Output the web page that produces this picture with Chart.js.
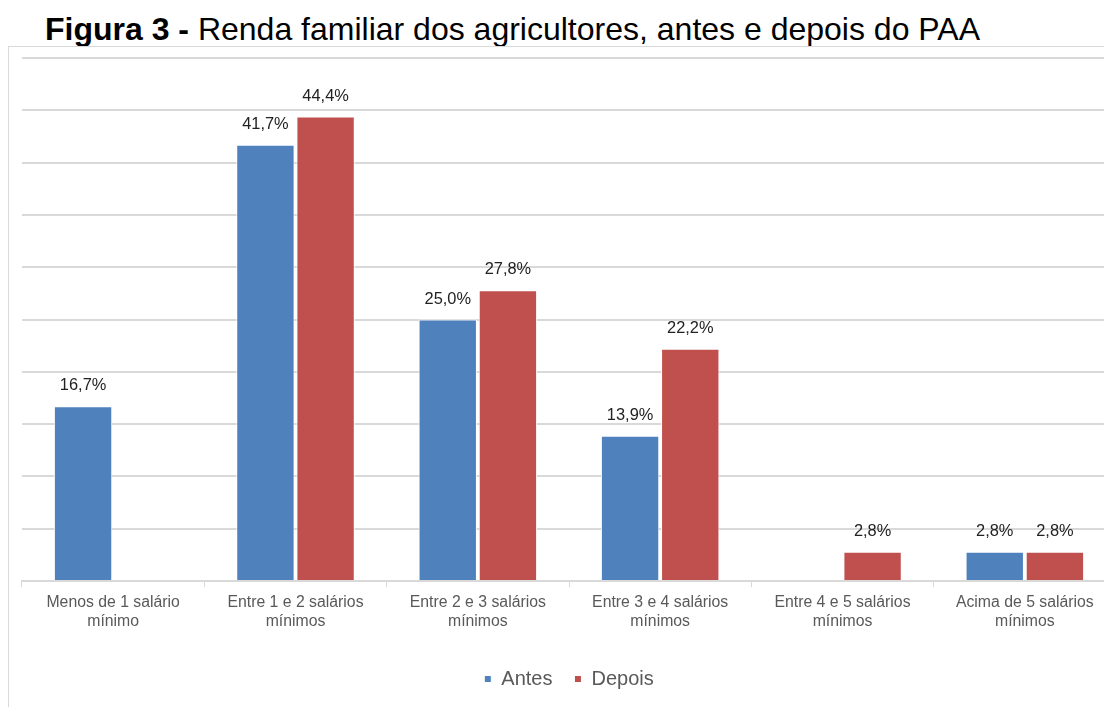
<!DOCTYPE html>
<html>
<head>
<meta charset="utf-8">
<script src="https://cdn.jsdelivr.net/npm/chart.js@4"></script>
<style>
  html, body { margin: 0; padding: 0; background: #fff; overflow: hidden; width: 1104px; height: 707px; }
  #title { position: absolute; left: 45px; top: 11px; font: 32px "Liberation Sans", Arial, sans-serif; color: #000; white-space: nowrap; }
  #title b { font-weight: bold; }
  #frame { position: absolute; left: 8px; top: 46px; width: 1130px; height: 700px; border-left: 1px solid #d9d9d9; border-top: 1px solid #d9d9d9; }
  #wrap { position: absolute; left: 9px; top: 47px; width: 1120px; height: 660px; }
</style>
</head>
<body>
<div id="title"><b>Figura 3 -</b> Renda familiar dos agricultores, antes e depois do PAA</div>
<div id="frame"></div>
<div id="wrap"><canvas id="myChart"></canvas></div>
<script>
// categories and values (%)
const categories = [
  ["Menos de 1 salário", "mínimo"],
  ["Entre 1 e 2 salários", "mínimos"],
  ["Entre 2 e 3 salários", "mínimos"],
  ["Entre 3 e 4 salários", "mínimos"],
  ["Entre 4 e 5 salários", "mínimos"],
  ["Acima de 5 salários", "mínimos"],
];
const antes = [16.7, 41.7, 25.0, 13.9, null, 2.8];
const depois = [null, 44.4, 27.8, 22.2, 2.8, 2.8];

const font = "'Liberation Sans', Arial, sans-serif";

// value labels above the bars
const barLabels = {
  id: "barLabels",
  afterDatasetsDraw(chart) {
    const c = chart.ctx;
    c.save();
    c.font = "16.4px " + font;
    c.fillStyle = "#222";
    c.textAlign = "center";
    c.textBaseline = "alphabetic";
    chart.data.datasets.forEach((ds, i) => {
      chart.getDatasetMeta(i).data.forEach((bar, j) => {
        const v = ds.data[j];
        if (v == null) return;
        c.fillText(v.toFixed(1).replace(".", ",") + "%", bar.x, bar.y - 16);
      });
    });
    c.restore();
  },
};

const ctx = document.getElementById("myChart").getContext("2d");
const chart = new Chart(ctx, {
  type: "bar",
  data: {
    labels: categories,
    datasets: [
      {
        label: "Antes",
        data: antes,
        backgroundColor: "#4f81bd",
        borderColor: "#ffffff",
        borderWidth: 1,
      },
      {
        label: "Depois",
        data: depois,
        backgroundColor: "#c0504d",
        borderColor: "#ffffff",
        borderWidth: 1,
      },
    ],
  },
  options: {
    responsive: true,
    maintainAspectRatio: false,
    animation: false,
    categoryPercentage: 0.66,
    barPercentage: 0.97,
    layout: { padding: { left: 13, right: 13, top: 11, bottom: 8 } },
    plugins: {
      legend: {
        position: "bottom",
        labels: {
          usePointStyle: true,
          pointStyle: "rect",
          boxWidth: 7,
          boxHeight: 7,
          padding: 22,
          color: "#595959",
          font: { family: font, size: 20 },
        },
      },
      tooltip: { enabled: false },
    },
    scales: {
      x: {
        grid: { drawOnChartArea: false, drawTicks: true, tickLength: 6, color: "#d9d9d9" },
        border: { color: "#d9d9d9", width: 2 },
        ticks: { color: "#595959", font: { family: font, size: 15.8 }, padding: 6, maxRotation: 0 },
        afterFit(scale) { scale.height += 10; },
      },
      y: {
        min: 0,
        max: 50,
        ticks: { display: false, stepSize: 5 },
        grid: { color: "#d9d9d9", lineWidth: 2, drawTicks: false },
        border: { display: false },
      },
    },
  },
  plugins: [barLabels],
});
</script>
</body>
</html>
